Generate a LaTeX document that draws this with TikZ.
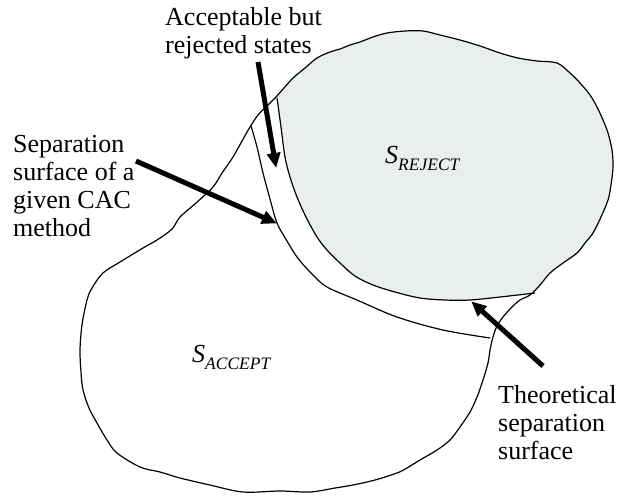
\documentclass[tikz,border=0pt]{standalone}
\usepackage{fontspec}
\setmainfont{Liberation Serif}
\usetikzlibrary{arrows.meta}

\definecolor{rejectfill}{RGB}{233,239,239}

\tikzset{
  outline/.style={line width=1.2pt, black, line join=round},
  pointer/.style={line width=5pt, black, -{Triangle[length=15pt,width=13pt]}, shorten >=-1pt},
  caption/.style={anchor=north west, inner sep=0pt, align=left,
    font=\fontsize{26}{28}\selectfont},
  setname/.style={anchor=base west, inner sep=0pt, font=\fontsize{26}{28}\selectfont\itshape},
}

\newcommand{\setsub}[2]{#1\raisebox{-7pt}{\fontsize{17.5}{17.5}\selectfont #2}}

\begin{document}
\begin{tikzpicture}[x=1pt, y=-1pt]
  \useasboundingbox (0,0) rectangle (618,499);

  % rejection region (shaded), closed by the theoretical separation surface
  \fill[rejectfill] plot[smooth, tension=0.55] coordinates {
    (276,97) (284,88) (293,78) (305,68) (317,58) (330,52) (340,49) (350,45)
    (360,42) (373,37) (387,33) (405,31) (423,31) (440,35) (460,40) (480,46)
    (500,53) (518,58) (537,61) (557,63) (570,73) (580,83) (590,95) (597,107)
    (603,120) (608,133) (612,150) (613,167) (611,185) (608,200) (601,217)
    (593,233) (585,243) (577,253) (563,263) (550,273) (540,285) (533,292)
    (500,297) (470,300) (445,300) (420,298) (395,292) (373,285) (355,276)
    (340,263) (327,250) (317,237) (306,217) (297,197) (290,177) (285,157)
    (281,127) (277,98)} -- cycle;

  % outer boundary of the state space
  \draw[outline] plot[smooth, tension=0.55] coordinates {
    (276,97) (267,106) (258,115) (250,127) (242,141) (233,157) (222,173)
    (213,187) (196,203) (180,217) (172,229) (157,240) (143,248) (120,262)
    (103,273) (92,288) (87,300) (82,325) (80,350) (81,372) (83,390) (89,408)
    (97,423) (107,440) (117,453) (140,467) (160,472) (180,478) (210,485)
    (243,492) (280,491) (310,492) (335,488) (353,485) (375,480) (397,473)
    (407,468) (420,460) (437,450) (450,440) (460,427) (470,412) (477,397)
    (483,380) (488,363) (490,350) (493,337) (497,326) (503,317) (512,307)
    (520,300) (530,295) (540,285) (550,273) (563,263) (577,253) (585,243)
    (593,233) (601,217) (608,200) (611,185) (613,167) (612,150) (608,133)
    (603,120) (597,107) (590,95) (580,83) (570,73) (557,63) (537,61)
    (518,58) (500,53) (480,46) (460,40) (440,35) (423,31) (405,31) (387,33)
    (373,37) (360,42) (350,45) (340,49) (330,52) (317,58) (305,68) (293,78)
    (284,88) (276,97)};

  % theoretical separation surface
  \draw[outline] plot[smooth, tension=0.55] coordinates {
    (277,98) (281,127) (285,157) (290,177) (297,197) (306,217) (317,237)
    (327,250) (340,263) (355,276) (373,285) (395,292) (420,298) (445,300)
    (470,300) (500,297) (535,293)};

  % separation surface of the CAC method
  \draw[outline] plot[smooth, tension=0.55] coordinates {
    (251,126) (257,147) (263,173) (270,199) (277,223) (287,241) (297,257)
    (311,273) (327,287) (357,300) (397,317) (443,330) (490,338)};

  % labels
  \node[caption] (acc) at (165,7.2) {Acceptable but\\rejected states};
  \node[caption] (cac) at (13,135.5) {Separation\\surface of a\\given CAC\\method};
  \node[caption] (theo) at (498,385.2) {Theoretical\\separation\\surface};

  \node[setname] (rej) at (385,163) {\setsub{S}{REJECT}};
  \node[setname] (accept) at (192,362) {\setsub{S}{ACCEPT}};

  % pointer arrows
  \coordinate (accTail) at (258,62);
  \coordinate (accTip)  at (276,167);
  \coordinate (cacTail) at (136,161);
  \coordinate (cacTip)  at (276,223);
  \coordinate (theoTail) at (543,366);
  \coordinate (theoTip)  at (472,302);

  \draw[pointer] (accTail) -- (accTip);
  \draw[pointer] (cacTail) -- (cacTip);
  \draw[pointer] (theoTail) -- (theoTip);
\end{tikzpicture}
\end{document}
